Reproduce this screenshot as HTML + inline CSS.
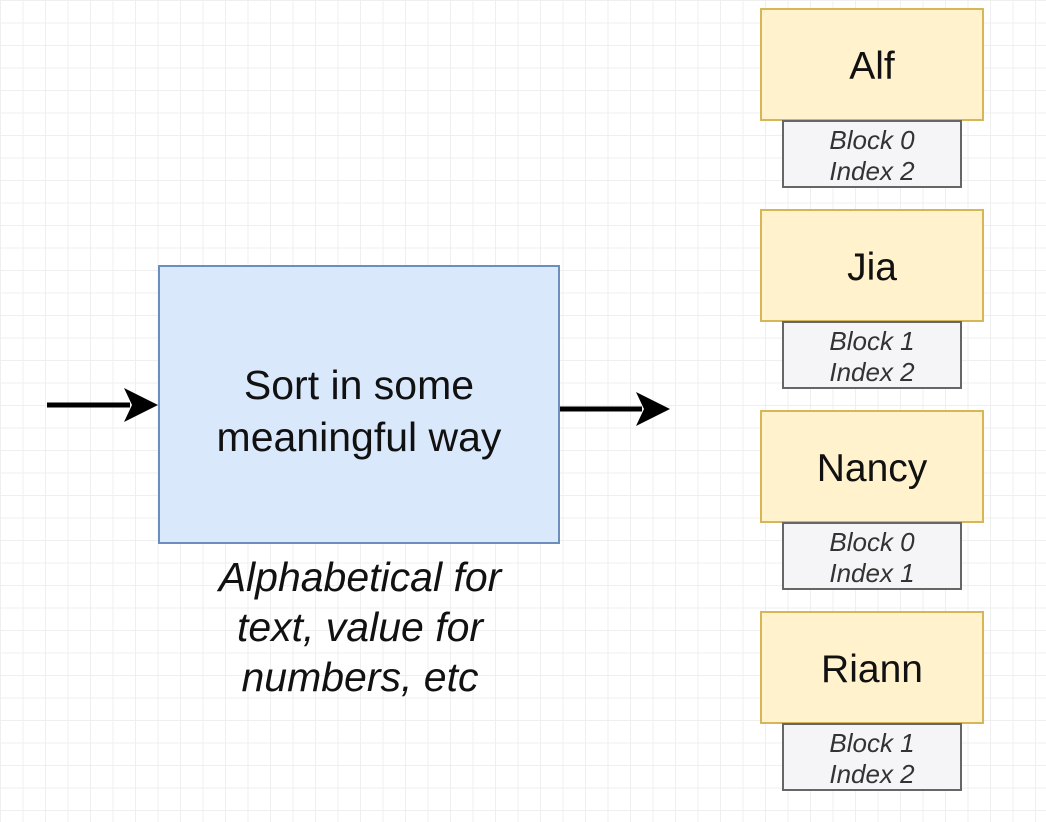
<!DOCTYPE html>
<html><head><meta charset="utf-8"><style>
body{margin:0;width:1046px;height:822px;overflow:hidden;background:#fff;
background-image:linear-gradient(#efefef 1px,transparent 1px),linear-gradient(90deg,#efefef 1px,transparent 1px);
background-size:22.5px 22.5px;background-position:0 0;font-family:"Liberation Sans",sans-serif;position:relative}
.b{position:absolute;box-sizing:border-box;display:flex;align-items:center;justify-content:center;text-align:center}
.y{background:#fff2cc;border:2px solid #d6b656;font-size:39px;color:#111;padding-top:4px}
.g{background:#f5f5f7;border:2px solid #666;font-style:italic;font-size:26px;line-height:31px;color:#333;padding-top:3px}
</style></head><body>
<div class="b" style="left:158px;top:265px;width:402px;height:279px;background:#dae8fc;border:2px solid #6c8ebf;font-size:41px;line-height:52px;color:#111;padding-top:12px">Sort in some<br>meaningful way</div>
<div class="b" style="left:120px;top:552px;width:480px;height:150px;font-style:italic;font-size:41px;line-height:50px;color:#111">Alphabetical for<br>text, value for<br>numbers, etc</div>
<svg style="position:absolute;left:0;top:0" width="1046" height="822">
<line x1="47" y1="405" x2="130" y2="405" stroke="#000" stroke-width="5"/>
<polygon points="124,388 158,405 124,422 132,405" fill="#000"/>
<line x1="560" y1="409" x2="642" y2="409" stroke="#000" stroke-width="5"/>
<polygon points="636,392 670,409 636,426 644,409" fill="#000"/>
</svg>
<div class="b y" style="left:760px;top:8px;width:224px;height:113px">Alf</div>
<div class="b g" style="left:782px;top:120px;width:180px;height:68px">Block 0<br>Index 2</div>
<div class="b y" style="left:760px;top:209px;width:224px;height:113px">Jia</div>
<div class="b g" style="left:782px;top:321px;width:180px;height:68px">Block 1<br>Index 2</div>
<div class="b y" style="left:760px;top:410px;width:224px;height:113px">Nancy</div>
<div class="b g" style="left:782px;top:522px;width:180px;height:68px">Block 0<br>Index 1</div>
<div class="b y" style="left:760px;top:611px;width:224px;height:113px">Riann</div>
<div class="b g" style="left:782px;top:723px;width:180px;height:68px">Block 1<br>Index 2</div>
</body></html>
